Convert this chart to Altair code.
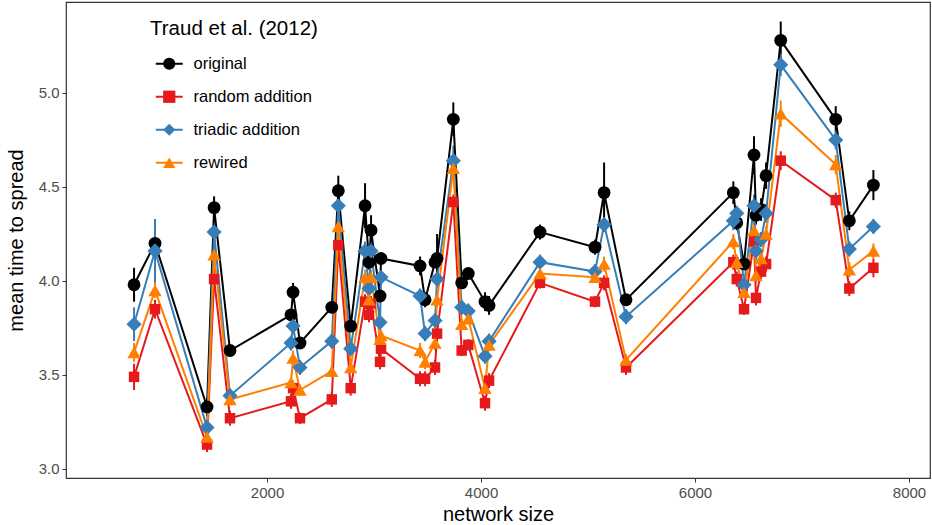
import altair as alt
import pandas as pd

# ---- data ----
network_size = [757, 953, 1439, 1505, 1654, 2224, 2243, 2308, 2605, 2666,
                2782, 2916, 2953, 2972, 3056, 3065, 3430, 3477, 3570, 3589,
                3741, 3819, 3881, 4037, 4075, 4551, 5065, 5150, 5355, 6358,
                6390, 6458, 6551, 6570, 6617, 6664, 6801, 7315, 7442, 7667]

original = [3.98, 4.20, 3.33, 4.39, 3.63, 3.82, 3.94, 3.67, 3.86, 4.48,
            3.76, 4.40, 4.10, 4.27, 3.92, 4.12, 4.08, 3.90, 4.10, 4.12,
            4.86, 3.99, 4.04, 3.89, 3.87, 4.26, 4.18, 4.47, 3.90, 4.47,
            4.31, 4.09, 4.67, 4.35, 4.38, 4.56, 5.28, 4.86, 4.32, 4.51]
original_err = [0.09, 0.03, 0.05, 0.06, 0.03, 0.03, 0.05, 0.03, 0.03, 0.08,
                0.03, 0.12, 0.04, 0.08, 0.03, 0.03, 0.05, 0.04, 0.03, 0.13,
                0.09, 0.03, 0.03, 0.05, 0.05, 0.04, 0.04, 0.16, 0.03, 0.06,
                0.04, 0.03, 0.10, 0.05, 0.06, 0.07, 0.10, 0.07, 0.05, 0.08]

random_add = [3.49, 3.85, 3.13, 4.01, 3.27, 3.36, 3.43, 3.27, 3.37, 4.19,
              3.43, 3.89, 3.82, 3.88, 3.57, 3.64, 3.48, 3.48, 3.54, 3.72,
              4.42, 3.63, 3.66, 3.35, 3.47, 3.99, 3.89, 3.99, 3.54, 4.10,
              4.01, 3.85, 4.21, 3.91, 4.05, 4.09, 4.64, 4.43, 3.96, 4.07]
random_err = [0.07, 0.05, 0.04, 0.05, 0.04, 0.04, 0.04, 0.03, 0.04, 0.05,
              0.04, 0.04, 0.04, 0.04, 0.04, 0.03, 0.04, 0.04, 0.04, 0.04,
              0.04, 0.03, 0.03, 0.04, 0.04, 0.03, 0.03, 0.04, 0.04, 0.04,
              0.04, 0.03, 0.05, 0.04, 0.04, 0.04, 0.05, 0.04, 0.04, 0.05]

triadic_add = [3.77, 4.16, 3.22, 4.26, 3.39, 3.67, 3.76, 3.54, 3.68, 4.40,
               3.64, 4.16, 3.96, 4.16, 3.78, 4.02, 3.92, 3.72, 3.79, 4.01,
               4.64, 3.86, 3.84, 3.60, 3.68, 4.10, 4.05, 4.30, 3.81, 4.32,
               4.36, 3.98, 4.40, 4.16, 4.22, 4.36, 5.15, 4.75, 4.17, 4.29]
triadic_err = [0.09, 0.17, 0.04, 0.04, 0.04, 0.04, 0.04, 0.04, 0.04, 0.04,
               0.04, 0.05, 0.04, 0.05, 0.04, 0.04, 0.04, 0.04, 0.04, 0.04,
               0.08, 0.04, 0.04, 0.04, 0.04, 0.04, 0.04, 0.04, 0.04, 0.05,
               0.04, 0.04, 0.06, 0.05, 0.04, 0.05, 0.06, 0.05, 0.04, 0.04]

rewired = [3.62, 3.95, 3.17, 4.14, 3.37, 3.46, 3.59, 3.42, 3.52, 4.29,
           3.54, 4.02, 3.90, 4.02, 3.69, 3.71, 3.63, 3.57, 3.67, 3.90,
           4.60, 3.77, 3.80, 3.43, 3.66, 4.04, 4.02, 4.09, 3.58, 4.21,
           4.10, 3.94, 4.27, 4.03, 4.12, 4.25, 4.89, 4.62, 4.06, 4.16]
rewired_err = [0.05, 0.04, 0.03, 0.04, 0.03, 0.03, 0.04, 0.03, 0.03, 0.04,
               0.03, 0.04, 0.03, 0.04, 0.03, 0.03, 0.04, 0.04, 0.04, 0.04,
               0.05, 0.03, 0.03, 0.03, 0.03, 0.03, 0.03, 0.04, 0.03, 0.04,
               0.04, 0.03, 0.05, 0.04, 0.04, 0.04, 0.07, 0.05, 0.04, 0.04]

series_names = ["original", "random addition", "triadic addition", "rewired"]
series_colors = ["#000000", "#E41A1C", "#377EB8", "#FF7F00"]
series_shapes = ["circle", "square", "diamond", "triangle-up"]
series_sizes = [165, 110, 230, 180]
legend_title = "Traud et al. (2012)"

rows = []
for name, vals, errs in zip(series_names,
                            [original, random_add, triadic_add, rewired],
                            [original_err, random_err, triadic_err, rewired_err]):
    for s, v, e in zip(network_size, vals, errs):
        rows.append({"size": s, "series": name, "series_line": name,
                     "series_pt": name,
                     "value": v, "lo": v - e, "hi": v + e})
df = pd.DataFrame(rows)

FONT = "Liberation Sans"

x_enc = alt.X("size:Q",
              scale=alt.Scale(domain=[121, 8196], nice=False, zero=False),
              axis=alt.Axis(values=[2000, 4000, 6000, 8000], format="d",
                            title="network size"))
y_enc = alt.Y("value:Q",
              scale=alt.Scale(domain=[2.952, 5.484], nice=False, zero=False),
              axis=alt.Axis(values=[3.0, 3.5, 4.0, 4.5, 5.0], format=".1f",
                            title="mean time to spread"))

common_legend = dict(
    orient="none", legendX=84, legendY=17, title=legend_title,
    titleFont=FONT, titleFontSize=20.5, titleFontWeight="normal", titleColor="#000000",
    titlePadding=16, labelFont=FONT, labelFontSize=16.5, labelColor="#000000",
    labelOffset=16, symbolOffset=11, rowPadding=16, symbolSize=150,
    padding=0,
)

# line legend (drawn underneath, only the coloured strokes are visible)
stroke_legend = alt.Legend(labelOpacity=0, titleOpacity=0,
                           symbolType="M-2.2,0L2.2,0", symbolStrokeWidth=2,
                           symbolFillColor="transparent", **common_legend)
# point legend (symbols + text)
point_legend = alt.Legend(symbolStrokeWidth=0, **common_legend)

stroke_enc = alt.Stroke("series_line:N", sort=series_names,
                        scale=alt.Scale(range=series_colors),
                        legend=stroke_legend)

base = alt.Chart(df)

errbars = base.mark_rule(strokeWidth=2).encode(
    x=x_enc, y="lo:Q", y2="hi:Q", stroke=stroke_enc)

lines = base.mark_line(strokeWidth=2).encode(
    x=x_enc, y=y_enc, stroke=stroke_enc)

points = base.mark_point(filled=True, opacity=1, strokeWidth=0).encode(
    x=x_enc, y=y_enc,
    fill=alt.Fill("series:N",
                  scale=alt.Scale(domain=series_names, range=series_colors),
                  legend=point_legend),
    shape=alt.Shape("series:N",
                    scale=alt.Scale(domain=series_names, range=series_shapes),
                    legend=point_legend),
    size=alt.Size("series_pt:N", sort=series_names,
                  scale=alt.Scale(type="ordinal", range=series_sizes),
                  legend=None),
)

chart = alt.layer(errbars, lines, points).properties(
    width=864, height=476,
    autosize=alt.AutoSizeParams(type="none"),
    padding={"left": 66, "top": 2, "right": 2, "bottom": 47},
).configure_view(
    stroke="#333333", strokeWidth=1.2
).configure_axis(
    grid=False, domain=False, tickColor="#333333", tickSize=4, tickWidth=1,
    labelFont=FONT, labelFontSize=15, labelColor="#4d4d4d", labelPadding=3,
    titleFont=FONT, titleFontSize=20, titleFontWeight="normal", titleColor="#000000",
).configure_axisX(
    titlePadding=4
).configure_axisY(
    titlePadding=12
)

chart.save("out.html", embed_options={"renderer": "svg", "actions": False})
